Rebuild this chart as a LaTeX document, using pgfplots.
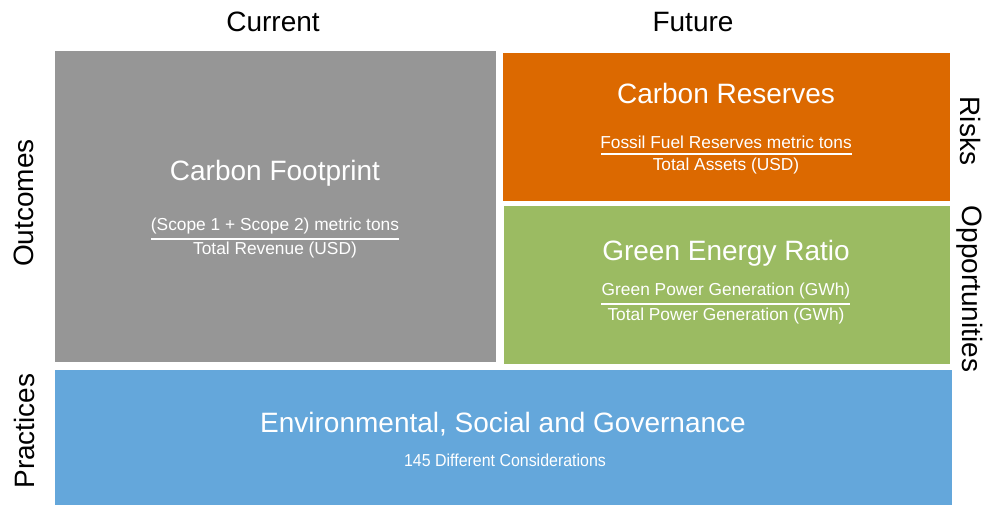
\documentclass[border=0pt]{standalone}
\usepackage{fontspec}
\setmainfont{Liberation Sans}
\usepackage{pgfplots}
\pgfplotsset{compat=1.18}
\definecolor{boxgray}{HTML}{969696}
\definecolor{boxorange}{HTML}{DC6900}
\definecolor{boxgreen}{HTML}{9BBB62}
\definecolor{boxblue}{HTML}{64A7DB}
\newcommand{\bigtxt}{\fontsize{21}{24}\selectfont}
\newcommand{\subtxt}{\fontsize{13}{15}\selectfont}
\begin{document}
\begin{tikzpicture}
\begin{axis}[scale only axis, width=739.5pt, height=379.5pt,
 xmin=0, xmax=986, ymin=0, ymax=506, y dir=reverse,
 hide axis, clip=false]
% page extent
\addplot[draw=none] coordinates {(0,0)(986,506)};
% boxes
\addplot[fill=boxgray, draw=none] coordinates {(55,51)(496,51)(496,362)(55,362)} -- cycle;
\addplot[fill=boxorange, draw=none] coordinates {(503,53)(950,53)(950,201)(503,201)} -- cycle;
\addplot[fill=boxgreen, draw=none] coordinates {(504,206)(950,206)(950,364)(504,364)} -- cycle;
\addplot[fill=boxblue, draw=none] coordinates {(55,370)(952,370)(952,505)(55,505)} -- cycle;
% fraction bars
\addplot[white, line width=0.8pt] coordinates {(151,239)(399,239)};
\addplot[white, line width=0.8pt] coordinates {(601,154)(852,154)};
\addplot[white, line width=0.8pt] coordinates {(601,304)(850,304)};
% headings
\node[overlay] at (273,22) {\bigtxt Current};
\node[overlay] at (693,22) {\bigtxt Future};
\node[overlay, rotate=90] at (24,203) {\bigtxt Outcomes};
\node[overlay, rotate=90] at (24,431) {\bigtxt Practices};
\node[overlay, rotate=-90] at (970,131) {\bigtxt Risks};
\node[overlay, rotate=-90] at (970,289) {\bigtxt Opportunities};
% box texts
\node[white] at (275,173) {\bigtxt Carbon Footprint};
\node[white] at (275,226) {\subtxt (Scope 1 + Scope 2) metric tons};
\node[white] at (275,250) {\subtxt Total Revenue (USD)};
\node[white] at (726,93) {\bigtxt Carbon Reserves};
\node[white] at (726,142) {\subtxt Fossil Fuel Reserves metric tons};
\node[white] at (726,166) {\subtxt Total Assets (USD)};
\node[white] at (726,253) {\bigtxt Green Energy Ratio};
\node[white] at (726,291) {\subtxt Green Power Generation (GWh)};
\node[white] at (726,316) {\subtxt Total Power Generation (GWh)};
\node[white] at (503,424) {\bigtxt Environmental, Social and Governance};
\node[white] at (505,460) {\subtxt\scalebox{0.92}[1]{145 Different Considerations}};
\end{axis}
\end{tikzpicture}
\end{document}
